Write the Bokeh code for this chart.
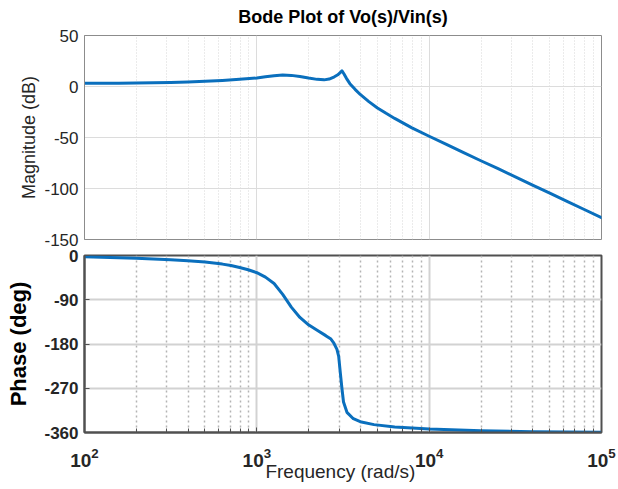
from bokeh.plotting import figure
from bokeh.layouts import column
from bokeh.models import FixedTicker, Range1d, LogTickFormatter
from bokeh.embed import file_html
from bokeh.resources import INLINE

FONT = "Liberation Sans"
TXT = "#262626"
CURVE = "#0a6fbd"

# Magnitude response of Vo(s)/Vin(s): frequency (rad/s) and gain (dB)
mag_freq = [100, 158, 251, 316, 398, 501, 631, 794, 1000, 1122, 1259, 1413,
            1585, 1778, 1995, 2239, 2455, 2630, 2818, 2951, 3055, 3119, 3199,
            3311, 3467, 3715, 3981, 4467, 5012, 5623, 6310, 7943, 10000, 12589,
            15849, 19953, 25119, 31623, 39811, 50119, 63096, 79433, 100000]
mag_db = [3.2, 3.3, 3.6, 3.9, 4.4, 5.1, 6.0, 7.1, 8.4, 9.6, 10.6, 11.2,
          10.9, 9.8, 8.3, 7.0, 6.5, 7.3, 9.5, 11.5, 13.8, 15.4, 12.5,
          8.0, 2.8, -2.8, -7.8, -14.8, -21.0, -26.3, -31.3, -40.5, -48.8, -56.8,
          -64.8, -72.8, -80.6, -88.6, -96.6, -104.6, -112.6, -120.6, -128.6]

# Phase response: frequency (rad/s) and phase (deg)
phase_freq = [100, 158, 200, 251, 316, 398, 501, 631, 708, 794, 891, 1000,
              1122, 1259, 1413, 1585, 1778, 1995, 2239, 2512, 2692, 2786,
              2917, 2985, 3048, 3119, 3184, 3334, 3631, 3981, 4786, 6310,
              10000, 19953, 39811, 100000]
phase_deg = [-2.5, -4.5, -5.5, -7.0, -8.5, -10.5, -13.0, -17.5, -20.5, -24.5,
             -29.0, -35.0, -44.0, -57.0, -79.0, -105.0, -126.0, -141.0, -152.0,
             -163.0, -170.0, -177.0, -191.0, -205.0, -237.0, -271.0, -298.0,
             -319.0, -332.0, -338.0, -344.0, -349.0, -353.0, -356.5, -358.3,
             -359.3]

mag_ticks = [50, 0, -50, -100, -150]
phase_ticks = [0, -90, -180, -270, -360]
freq_ticks = [1e2, 1e3, 1e4, 1e5]
freq_minor = [m * 10 ** k for k in (2, 3, 4) for m in range(2, 10)]


def x_ticker():
    return FixedTicker(ticks=freq_ticks, minor_ticks=freq_minor)


# ---- magnitude panel (nudged up so the title sits close to the page top) ----
p1 = figure(width=618, height=261, x_axis_type="log",
            x_range=Range1d(1e2, 1e5), y_range=Range1d(-150, 50),
            output_backend="svg", toolbar_location=None,
            min_border_left=84, min_border_right=17,
            min_border_top=37, min_border_bottom=18,
            margin=(-4, 0, 0, 0))
p1.title.text = "Bode Plot of Vo(s)/Vin(s)"
p1.title.align = "center"
p1.title.text_font = FONT
p1.title.text_font_size = "18px"
p1.title.text_font_style = "bold"
p1.title.text_color = "#000000"
p1.title.standoff = 17

p1.xaxis.visible = False
p1.xgrid.ticker = x_ticker()
p1.xgrid.grid_line_color = "#dcdcdc"
p1.xgrid.grid_line_width = 1
p1.xgrid.minor_grid_line_color = "#d6d6d6"
p1.xgrid.minor_grid_line_dash = "1 2"
p1.ygrid.grid_line_color = "#dcdcdc"

ya = p1.yaxis[0]
ya.ticker = FixedTicker(ticks=mag_ticks)
ya.major_label_overrides = {v: str(v) for v in mag_ticks}
ya.axis_label = "Magnitude (dB)"
ya.axis_label_text_font = FONT
ya.axis_label_text_font_size = "18px"
ya.axis_label_text_font_style = "normal"
ya.axis_label_text_color = TXT
ya.axis_label_standoff = 2
ya.major_label_text_font = FONT
ya.major_label_text_font_size = "17px"
ya.major_label_text_color = TXT
ya.major_label_standoff = 6
ya.major_tick_out = 0
ya.major_tick_in = 0
ya.minor_tick_line_color = None
ya.axis_line_color = "#8c8c8c"

p1.outline_line_color = "#8c8c8c"
p1.outline_line_width = 1

p1.line(mag_freq, mag_db, line_color=CURVE, line_width=3,
        line_join="round", line_cap="round")

# ---- phase panel (pulled up over the magnitude panel's empty bottom border) ----
p2 = figure(width=618, height=247, x_axis_type="log",
            x_range=Range1d(1e2, 1e5), y_range=Range1d(-360, 0),
            output_backend="svg", toolbar_location=None,
            min_border_left=84, min_border_right=17,
            min_border_top=13, min_border_bottom=57,
            margin=(-15, 0, 0, 0))
p2.background_fill_alpha = 0
p2.border_fill_alpha = 0

FRAME = "#505050"
xa = p2.xaxis[0]
xa.ticker = x_ticker()
xa.formatter = LogTickFormatter()
xa.axis_label = "Frequency  (rad/s)"
xa.axis_label_text_font = FONT
xa.axis_label_text_font_size = "19px"
xa.axis_label_text_font_style = "normal"
xa.axis_label_text_color = TXT
xa.axis_label_standoff = -9
xa.major_label_text_font = FONT
xa.major_label_text_font_size = "19px"
xa.major_label_text_font_style = "bold"
xa.major_label_text_color = TXT
xa.major_label_standoff = 15
xa.major_tick_in = 5
xa.major_tick_out = 0
xa.minor_tick_in = 4
xa.minor_tick_out = 0
xa.major_tick_line_color = FRAME
xa.minor_tick_line_color = FRAME
xa.axis_line_color = FRAME
xa.axis_line_width = 2

pa = p2.yaxis[0]
pa.ticker = FixedTicker(ticks=phase_ticks)
pa.major_label_overrides = {v: str(v) for v in phase_ticks}
pa.axis_label = "Phase (deg)"
pa.axis_label_text_font = FONT
pa.axis_label_text_font_size = "22px"
pa.axis_label_text_font_style = "bold"
pa.axis_label_text_color = "#000000"
pa.axis_label_standoff = 10
pa.major_label_text_font = FONT
pa.major_label_text_font_size = "17px"
pa.major_label_text_font_style = "bold"
pa.major_label_text_color = TXT
pa.major_label_standoff = 6
pa.major_tick_in = 5
pa.major_tick_out = 0
pa.minor_tick_line_color = None
pa.major_tick_line_color = FRAME
pa.axis_line_color = FRAME
pa.axis_line_width = 2

p2.outline_line_color = FRAME
p2.outline_line_width = 2

p2.xgrid.grid_line_color = "#d2d2d2"
p2.xgrid.grid_line_width = 2
p2.xgrid.minor_grid_line_color = "#b4b4b4"
p2.xgrid.minor_grid_line_dash = "2 3"
p2.xgrid.minor_grid_line_width = 1.5
p2.ygrid.grid_line_color = "#d2d2d2"
p2.ygrid.grid_line_width = 2

p2.line(phase_freq, phase_deg, line_color=CURVE, line_width=3,
        line_join="round", line_cap="round")

layout = column(p1, p2, spacing=0)
open("out.html", "w").write(file_html(layout, INLINE))
